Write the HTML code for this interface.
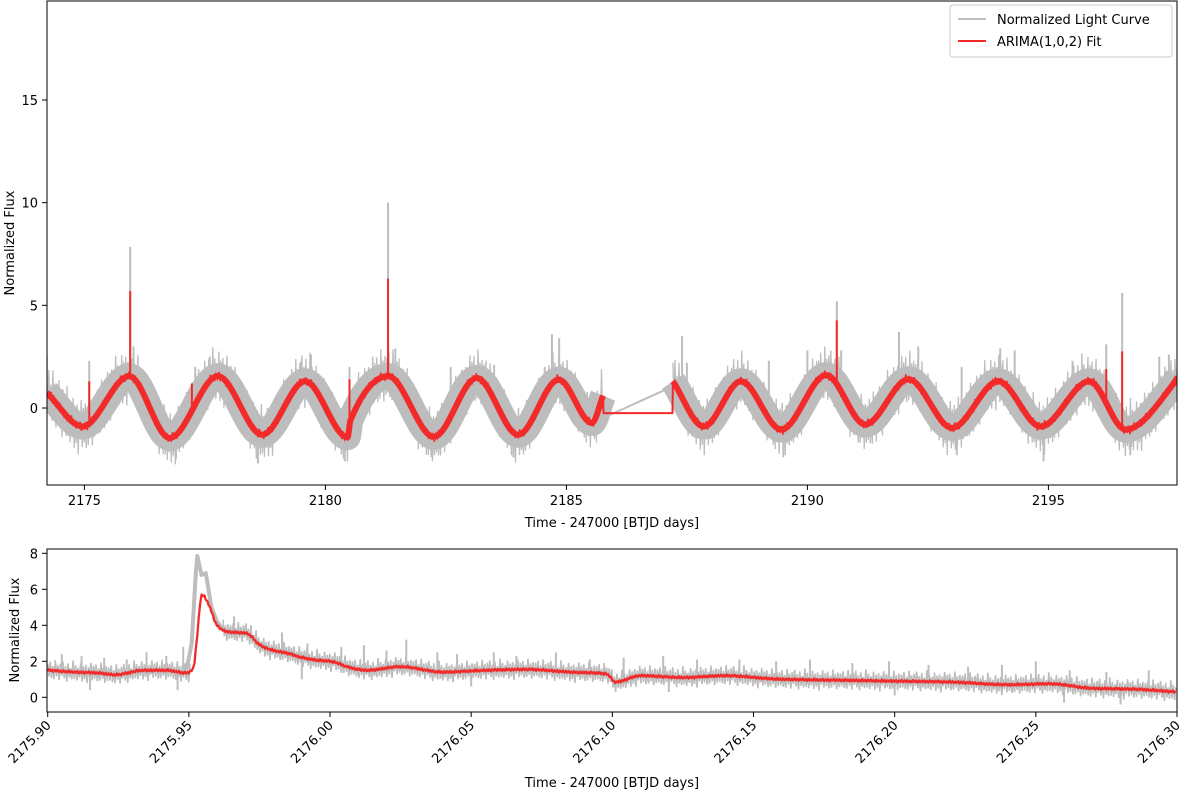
<!DOCTYPE html>
<html><head><meta charset="utf-8"><style>
body{margin:0;background:#fff}
svg{display:block;font-family:"DejaVu Sans","Liberation Sans",sans-serif}
</style></head><body>
<svg id="c" width="1200" height="793" viewBox="0 0 1200 793"></svg>
<script>
// ---------- top panel data ----------
const topXTicks = [2175, 2180, 2185, 2190, 2195];
const topYTicks = [0, 5, 10, 15];
const fitSeg1T = [2174.22,2174.96,2175.93,2176.77,2177.77,2178.69,2179.58,2180.46,2180.52,2181.30,2182.25,2183.14,2184.00,2184.84,2185.53,2185.76];
const fitSeg1V = [0.75,-0.9,1.55,-1.46,1.55,-1.3,1.3,-1.42,-0.6,1.55,-1.4,1.46,-1.3,1.38,-0.73,0.6];
const fitGapT = [2185.76,2185.77,2187.20,2187.21];
const fitGapV = [0.6,-0.25,-0.25,1.3];
const fitSeg2T = [2187.21,2187.85,2188.62,2189.46,2190.39,2191.20,2192.10,2193.00,2193.96,2194.84,2195.85,2196.60,2197.60,2197.68];
const fitSeg2V = [1.3,-0.9,1.3,-1.05,1.6,-0.8,1.4,-0.97,1.3,-0.9,1.3,-1.05,1.2,1.5];
const rawGapT = [2185.75,2187.25];
const rawGapV = [-0.5,1.1];
const rawSpikeT = [2174.22,2175.10,2175.95,2176.02,2177.30,2177.60,2179.50,2179.70,2180.50,2181.30,2181.45,2182.60,2183.50,2184.55,2184.70,2184.85,2187.40,2187.50,2189.20,2190.00,2190.61,2190.70,2191.90,2192.30,2193.20,2194.00,2194.30,2195.50,2196.20,2196.53,2197.30,2197.50,2197.68,2176.90,2178.60,2180.40,2182.20,2183.90,2189.50,2193.10,2194.90,2196.70];
const rawSpikeV = [2.6,2.3,7.85,3.0,2.0,2.5,2.3,2.6,2.0,10.0,2.9,2.0,2.1,2.0,3.6,3.4,3.5,2.2,2.3,2.8,5.2,2.8,3.7,3.0,2.0,2.9,2.8,2.3,3.1,5.6,2.5,2.6,18.8,-2.5,-2.7,-2.6,-2.4,-2.4,-2.4,-2.3,-2.6,-2.3];
const fitSpikeT = [2175.10,2175.95,2177.23,2180.50,2181.30,2190.61,2196.20,2196.53,2197.68];
const fitSpikeV = [1.3,5.7,1.2,1.4,6.3,4.27,1.9,2.76,12.9];
// scatter of raw points about the fit (approximate residuals, in flux units)
const rawScatter = [0.9,-0.8,1.2,-1.0,0.6,-1.1,1.4,-0.7,0.8,-1.2,1.0,-0.6,1.3,-0.9,0.7,-1.3,1.1,-0.8,0.5,-1.0,1.5,-0.9,0.9,-1.1,0.6,-0.7,1.2,-1.2,0.8,-0.9,1.0,-1.4,0.7,-0.6,1.3,-1.0,0.9,-0.8,1.1,-1.1,0.6,-1.0,1.4,-0.7,0.8,-1.2,1.0,-0.9];
// ---------- bottom panel data ----------
const botXTicks = ["2175.90","2175.95","2176.00","2176.05","2176.10","2176.15","2176.20","2176.25","2176.30"];
const botYTicks = [0,2,4,6,8];
const zFitT = [2175.900,2175.910,2175.918,2175.924,2175.934,2175.942,2175.949,2175.9516,2175.9528,2175.9546,2175.9569,2175.960,2175.9634,2175.9705,2175.9752,2175.980,2175.985,2175.989,2175.995,2176.001,2176.006,2176.013,2176.025,2176.040,2176.055,2176.070,2176.085,2176.098,2176.101,2176.110,2176.125,2176.140,2176.160,2176.180,2176.200,2176.220,2176.240,2176.255,2176.270,2176.285,2176.300];
const zFitV = [1.5,1.4,1.35,1.25,1.5,1.5,1.35,1.6,3.2,5.7,5.2,4.0,3.65,3.55,2.9,2.6,2.45,2.25,2.07,1.98,1.7,1.5,1.7,1.4,1.5,1.55,1.4,1.3,0.85,1.2,1.1,1.2,1.0,0.95,0.9,0.85,0.7,0.75,0.5,0.45,0.3];
const zRawT = [2175.949,2175.951,2175.9525,2175.953,2175.9545,2175.956,2175.958,2175.960,2175.963];
const zRawV = [1.4,3.0,7.0,7.85,6.8,6.9,5.0,4.2,3.6];
const zSpikeT = [2175.905,2175.912,2175.920,2175.928,2175.935,2175.942,2175.948,2175.966,2175.972,2175.983,2175.992,2176.004,2176.012,2176.020,2176.027,2176.038,2176.045,2176.058,2176.066,2176.080,2176.092,2176.104,2176.118,2176.130,2176.145,2176.158,2176.170,2176.185,2176.198,2176.212,2176.226,2176.238,2176.250,2176.262,2176.275,2176.290,2175.915,2175.946,2175.990,2176.050,2176.120,2176.200,2176.260,2176.280];
const zSpikeV = [2.4,2.3,2.2,2.1,2.5,2.3,2.8,4.5,4.0,3.6,3.0,2.8,2.9,2.6,3.2,2.5,2.4,2.5,2.3,2.5,2.1,2.2,2.3,2.1,2.1,2.0,2.1,1.9,2.0,1.8,1.7,1.8,2.0,1.5,1.4,1.5,0.4,0.4,1.0,0.6,0.3,0.1,-0.3,-0.4];

const NS='http://www.w3.org/2000/svg', svg=document.getElementById('c');
function el(tag, attrs, parent){const e=document.createElementNS(NS,tag);for(const k in attrs)e.setAttribute(k,attrs[k]);(parent||svg).appendChild(e);return e;}
function lin(d0,d1,r0,r1){return v=>r0+(v-d0)*(r1-r0)/(d1-d0);}
function monotone(pts){
  const n=pts.length; if(n<3) return 'M'+pts.map(p=>p.join(',')).join('L');
  const dx=[],s=[],m=[];
  for(let i=0;i<n-1;i++){dx[i]=pts[i+1][0]-pts[i][0];s[i]=(pts[i+1][1]-pts[i][1])/dx[i];}
  m[0]=s[0];m[n-1]=s[n-2];
  for(let i=1;i<n-1;i++){m[i]=(s[i-1]*s[i]<=0)?0:(3*(dx[i-1]+dx[i]))/((2*dx[i]+dx[i-1])/s[i-1]+(dx[i]+2*dx[i-1])/s[i]);}
  let d='M'+pts[0][0]+','+pts[0][1];
  for(let i=0;i<n-1;i++){const h=dx[i]/3;d+='C'+(pts[i][0]+h)+','+(pts[i][1]+m[i]*h)+' '+(pts[i+1][0]-h)+','+(pts[i+1][1]-m[i+1]*h)+' '+pts[i+1][0]+','+pts[i+1][1];}
  return d;
}
function mono(T,V,t){
  const n=T.length; if(t<=T[0])return V[0]; if(t>=T[n-1])return V[n-1];
  const dx=[],s=[],m=[];
  for(let i=0;i<n-1;i++){dx[i]=T[i+1]-T[i];s[i]=(V[i+1]-V[i])/dx[i];}
  m[0]=s[0];m[n-1]=s[n-2];
  for(let i=1;i<n-1;i++){m[i]=(s[i-1]*s[i]<=0)?0:(3*(dx[i-1]+dx[i]))/((2*dx[i]+dx[i-1])/s[i-1]+(dx[i]+2*dx[i-1])/s[i]);}
  let i=0; while(t>T[i+1])i++;
  const h=dx[i], u=(t-T[i])/h, u2=u*u, u3=u2*u;
  return (2*u3-3*u2+1)*V[i]+(u3-2*u2+u)*h*m[i]+(-2*u3+3*u2)*V[i+1]+(u3-u2)*h*m[i+1];
}
function interp(T,V,t){if(t<=T[0])return V[0];for(let i=1;i<T.length;i++){if(t<=T[i])return V[i-1]+(V[i]-V[i-1])*(t-T[i-1])/(T[i]-T[i-1]);}return V[V.length-1];}

el('defs',{}).innerHTML='<clipPath id="cp1"><rect x="47" y="1" width="1130" height="484"/></clipPath><clipPath id="cp2"><rect x="47" y="549" width="1130" height="163"/></clipPath>';

// ---------- TOP PANEL ----------
const L=47,R=1177,T1=1,B1=485;
const tx=lin(2175,2195,84.4,1048.4), ty=lin(0,15,408,100);
const gTop=el('g',{});


const gTopData=el('g',{'clip-path':'url(#cp1)'},gTop);
const segs=[[fitSeg1T,fitSeg1V],[fitSeg2T,fitSeg2V]];
segs.forEach(([T,V])=>{
  const p=el('path',{d:monotone(T.map((t,i)=>[tx(t),ty(V[i])])),fill:'none',stroke:'#bdbdbd','stroke-width':26,'stroke-linejoin':'round'},gTopData);
  
  
  const pts=[]; let k=0;
  for(let t=T[0]; t<=T[T.length-1]; t+=0.021){pts.push(tx(t)+','+ty(mono(T,V,t)+rawScatter[k%rawScatter.length]));k++;}
  const z=el('polyline',{points:pts.join(' '),fill:'none',stroke:'#bdbdbd','stroke-width':1.3},gTopData);
  
  
});
const allT=fitSeg1T.concat(fitGapT.slice(1,3),fitSeg2T), allV=fitSeg1V.concat(fitGapV.slice(1,3),fitSeg2V);
rawSpikeT.forEach((t,i)=>{
  const b=interp(allT,allV,t);
  const l=el('line',{x1:tx(t),x2:tx(t),y1:ty(b),y2:ty(rawSpikeV[i]),stroke:'#bdbdbd','stroke-width':2},gTopData);
  
  
});
const gapLine=el('polyline',{points:rawGapT.map((t,i)=>tx(t)+','+ty(rawGapV[i])).join(' '),fill:'none',stroke:'#bdbdbd','stroke-width':2},gTopData);


segs.forEach(([T,V])=>{
  const p=el('path',{d:monotone(T.map((t,i)=>[tx(t),ty(V[i])])),fill:'none',stroke:'#f22a2a','stroke-width':6,'stroke-linejoin':'round'},gTopData);
  
  
  const pts=[]; let k=3;
  for(let t=T[0]; t<=T[T.length-1]; t+=0.03){pts.push(tx(t)+','+ty(mono(T,V,t)+0.18*rawScatter[k%rawScatter.length]));k++;}
  const z=el('polyline',{points:pts.join(' '),fill:'none',stroke:'#f22a2a','stroke-width':1.5},gTopData);
  
  
});
const gapFit=el('polyline',{points:fitGapT.map((t,i)=>tx(t)+','+ty(fitGapV[i])).join(' '),fill:'none',stroke:'#f22a2a','stroke-width':2},gTopData);


fitSpikeT.forEach((t,i)=>{
  const b=interp(allT,allV,t);
  const l=el('line',{x1:tx(t),x2:tx(t),y1:ty(b),y2:ty(fitSpikeV[i]),stroke:'#f22a2a','stroke-width':2},gTopData);
  
  
});
const f1=el('rect',{x:L,y:T1,width:R-L,height:B1-T1,fill:'none',stroke:'#000','stroke-width':1},gTop);


topXTicks.forEach(v=>{
  el('line',{x1:tx(v),x2:tx(v),y1:B1,y2:B1+5,stroke:'#000'},gTop);
  const t=el('text',{x:tx(v),y:B1+20,'text-anchor':'middle','font-size':13},gTop);t.textContent=v;
  
  
});
topYTicks.forEach(v=>{
  el('line',{x1:L-5,x2:L,y1:ty(v),y2:ty(v),stroke:'#000'},gTop);
  const t=el('text',{x:L-9,y:ty(v)+5,'text-anchor':'end','font-size':13},gTop);t.textContent=v;
  
  
});
let t=el('text',{x:612,y:527,'text-anchor':'middle','font-size':13},gTop);t.textContent='Time - 247000 [BTJD days]';


t=el('text',{x:0,y:0,'text-anchor':'middle','font-size':13,transform:'translate(14,243) rotate(-90)'},gTop);t.textContent='Normalized Flux';


const lg=el('g',{},gTop);


el('rect',{x:950,y:5,width:222,height:52,rx:3,fill:'#fff','fill-opacity':0.8,stroke:'#ccc'},lg);
el('line',{x1:958,x2:986,y1:19,y2:19,stroke:'#bdbdbd','stroke-width':2},lg);
t=el('text',{x:997,y:24,'font-size':13},lg);t.textContent='Normalized Light Curve';


el('line',{x1:958,x2:986,y1:41,y2:41,stroke:'#f22a2a','stroke-width':2},lg);
t=el('text',{x:997,y:46,'font-size':13},lg);t.textContent='ARIMA(1,0,2) Fit';



// ---------- BOTTOM PANEL ----------
const T2=549,B2=712;
const bx=lin(2175.90,2176.30,47.7,1177), by=lin(0,8,697.3,553.3);
const gBot=el('g',{});


const gBD=el('g',{'clip-path':'url(#cp2)'},gBot);
{
  const parts=[[]]; let k=0;
  for(let t=zFitT[0]; t<=zFitT[zFitT.length-1]; t+=0.00045){
    if(t>2175.9505&&t<2175.962){if(parts[parts.length-1].length)parts.push([]);k++;continue;}
    parts[parts.length-1].push(bx(t)+','+by(mono(zFitT,zFitV,t)+0.42*rawScatter[k%rawScatter.length]));k++;
  }
  parts.forEach(pts=>{
    const z=el('polyline',{points:pts.join(' '),fill:'none',stroke:'#bdbdbd','stroke-width':1.6},gBD);
    
    
  });
}
zSpikeT.forEach((t,i)=>{
  const b=interp(zFitT,zFitV,t);
  const l=el('line',{x1:bx(t),x2:bx(t),y1:by(b),y2:by(zSpikeV[i]),stroke:'#bdbdbd','stroke-width':2},gBD);
  
  
});
let p=el('polyline',{points:zRawT.map((t,i)=>bx(t)+','+by(zRawV[i])).join(' '),fill:'none',stroke:'#bdbdbd','stroke-width':4,'stroke-linejoin':'round'},gBD);


{
  const pts=[]; let k=5;
  for(let t=zFitT[0]; t<=zFitT[zFitT.length-1]; t+=0.0005){pts.push(bx(t)+','+by(mono(zFitT,zFitV,t)+0.05*rawScatter[k%rawScatter.length]));k++;}
  p=el('polyline',{points:pts.join(' '),fill:'none',stroke:'#f22a2a','stroke-width':2.3,'stroke-linejoin':'round'},gBD);
  
  
}
const f2=el('rect',{x:L,y:T2,width:R-L,height:B2-T2,fill:'none',stroke:'#000','stroke-width':1},gBot);


botXTicks.forEach(v=>{
  const x=bx(parseFloat(v));
  el('line',{x1:x,x2:x,y1:B2,y2:B2+5,stroke:'#000'},gBot);
  const t=el('text',{x:0,y:0,'text-anchor':'end','font-size':13,transform:'translate('+(x+4)+','+(B2+14)+') rotate(-45)'},gBot);t.textContent=v;
  
  
});
botYTicks.forEach(v=>{
  el('line',{x1:L-5,x2:L,y1:by(v),y2:by(v),stroke:'#000'},gBot);
  const t=el('text',{x:L-9,y:by(v)+5,'text-anchor':'end','font-size':13},gBot);t.textContent=v;
  
  
});
t=el('text',{x:612,y:787,'text-anchor':'middle','font-size':13},gBot);t.textContent='Time - 247000 [BTJD days]';


t=el('text',{x:0,y:0,'text-anchor':'middle','font-size':13,transform:'translate(19,630) rotate(-90)'},gBot);t.textContent='Normalized Flux';


</script>
</body></html>
